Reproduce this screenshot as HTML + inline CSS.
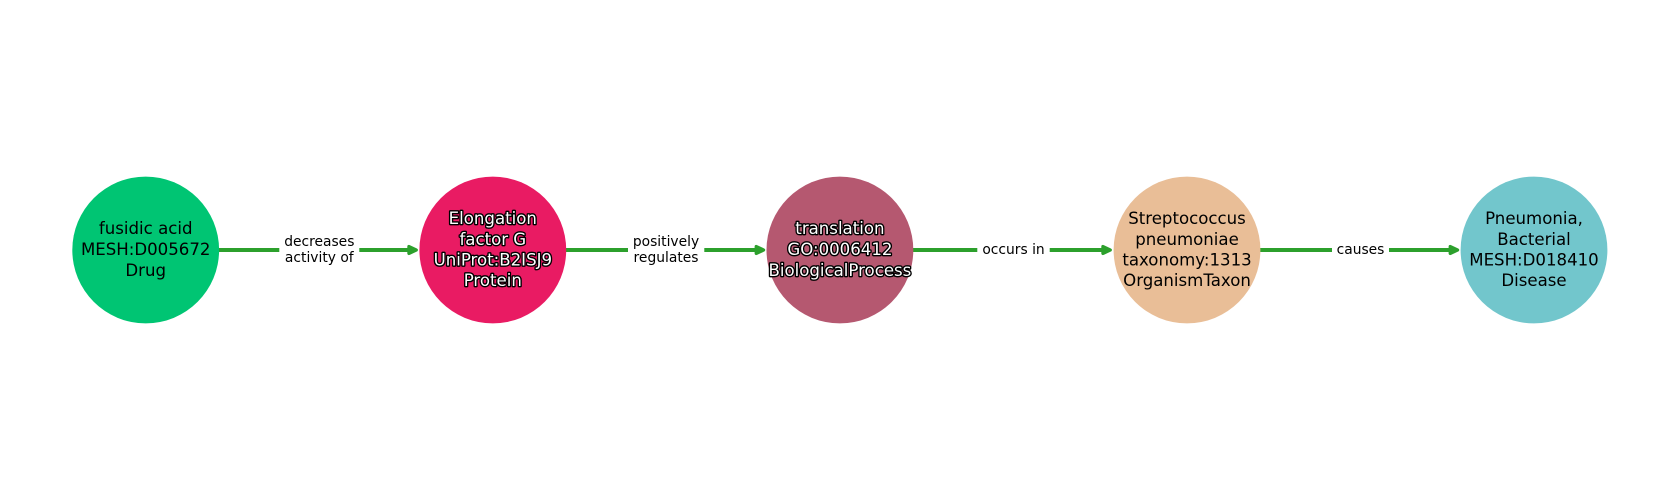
<!DOCTYPE html>
<html>
<head>
<meta charset="utf-8">
<style>
html,body{margin:0;padding:0;background:#fff;width:1680px;height:500px;overflow:hidden}
svg{display:block}
text{font-family:"DejaVu Sans",sans-serif;text-anchor:middle}
.n{font-size:17.2px;fill:#000}
.h{font-size:17.2px;fill:#fff;stroke:#000;stroke-width:2.8px;paint-order:stroke;stroke-linejoin:round}
.e{font-size:14.2px;fill:#000}
</style>
</head>
<body>
<svg width="1680" height="500" viewBox="0 0 1680 500" xmlns="http://www.w3.org/2000/svg">
<rect width="1680" height="500" fill="#fff"/>
<g stroke="#2ca02c" stroke-width="4" fill="none">
<path d="M219 250H279.3M359.3 250H410"/>
<path d="M566 250H628M704.3 250H757"/>
<path d="M913 250H977.3M1049.7 250H1104"/>
<path d="M1260 250H1332M1389 250H1451"/>
</g>
<g fill="#2ca02c" stroke="#2ca02c" stroke-width="3.4" stroke-linejoin="round">
<path d="M409 246.6L416.2 250L409 253.4Z"/>
<path d="M756.3 246.6L763.5 250L756.3 253.4Z"/>
<path d="M1103 246.6L1110.2 250L1103 253.4Z"/>
<path d="M1450.3 246.6L1457.5 250L1450.3 253.4Z"/>
</g>
<circle cx="145.7" cy="250" r="73.4" fill="#00c573"/>
<circle cx="492.8" cy="250" r="73.4" fill="#e91b63"/>
<circle cx="839.9" cy="250" r="73.4" fill="#b55870"/>
<circle cx="1187" cy="250" r="73.4" fill="#e9be97"/>
<circle cx="1534" cy="250" r="73.4" fill="#72c6cc"/>

<text class="n" transform="translate(145.7 234) scale(.965 1)">fusidic acid</text>
<text class="n" transform="translate(145.7 255) scale(.965 1)">MESH:D005672</text>
<text class="n" transform="translate(145.7 276) scale(.965 1)">Drug</text>

<text class="h" transform="translate(492.8 224) scale(.965 1)">Elongation</text>
<text class="h" transform="translate(492.8 245) scale(.965 1)">factor G</text>
<text class="h" transform="translate(492.8 265.5) scale(.965 1)">UniProt:B2ISJ9</text>
<text class="h" transform="translate(492.8 286) scale(.965 1)">Protein</text>

<text class="h" transform="translate(839.9 234) scale(.965 1)">translation</text>
<text class="h" transform="translate(839.9 255) scale(.965 1)">GO:0006412</text>
<text class="h" transform="translate(839.9 276) scale(.965 1)">BiologicalProcess</text>

<text class="n" transform="translate(1187 224) scale(.965 1)">Streptococcus</text>
<text class="n" transform="translate(1187 245) scale(.965 1)">pneumoniae</text>
<text class="n" transform="translate(1187 265.5) scale(.965 1)">taxonomy:1313</text>
<text class="n" transform="translate(1187 286) scale(.965 1)">OrganismTaxon</text>

<text class="n" transform="translate(1534 224) scale(.965 1)">Pneumonia,</text>
<text class="n" transform="translate(1534 245) scale(.965 1)">Bacterial</text>
<text class="n" transform="translate(1534 265.5) scale(.965 1)">MESH:D018410</text>
<text class="n" transform="translate(1534 286) scale(.965 1)">Disease</text>

<text class="e" transform="translate(319.3 246) scale(.975 1)">decreases</text>
<text class="e" transform="translate(319.3 262) scale(.975 1)">activity of</text>
<text class="e" transform="translate(666 246) scale(.975 1)">positively</text>
<text class="e" transform="translate(666 262) scale(.975 1)">regulates</text>
<text class="e" transform="translate(1013.5 254) scale(.975 1)">occurs in</text>
<text class="e" transform="translate(1360.5 254) scale(.975 1)">causes</text>
</svg>
</body>
</html>
